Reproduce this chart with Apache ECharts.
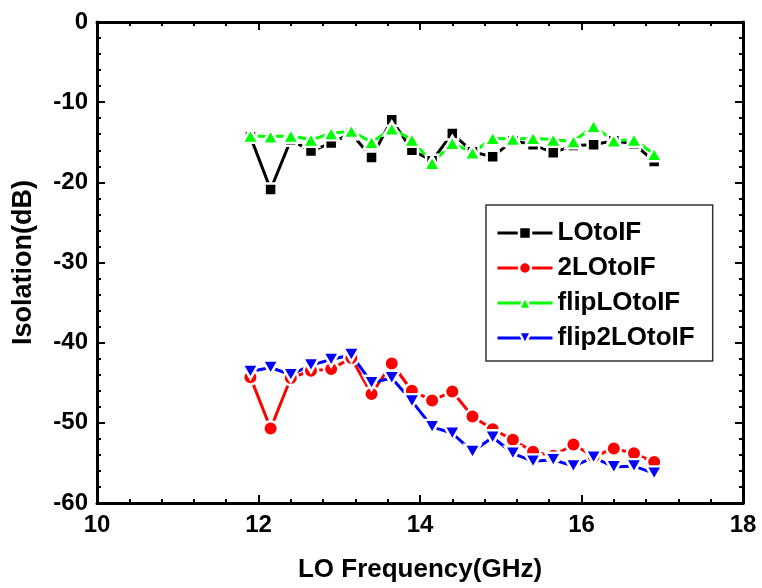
<!DOCTYPE html>
<html>
<head>
<meta charset="utf-8">
<script src="https://cdn.jsdelivr.net/npm/echarts@6/dist/echarts.min.js"></script>
<style>
  html, body { margin: 0; padding: 0; background: #fff; }
  #chart { width: 762px; height: 588px; }
</style>
</head>
<body>
<div id="chart"></div>
<script>
// LO frequency sweep (GHz)
const freq = [11.9, 12.15, 12.4, 12.65, 12.9, 13.15, 13.4, 13.65, 13.9, 14.15, 14.4,
              14.65, 14.9, 15.15, 15.4, 15.65, 15.9, 16.15, 16.4, 16.65, 16.9];

// Isolation (dB) per path
const loToIF      = [-14.3, -20.9, -14.7, -16.1, -15.1, -13.9, -16.9, -12.2, -16.0, -17.3, -13.9,
                     -16.2, -16.8, -14.8, -15.3, -16.3, -15.4, -15.3, -14.8, -15.2, -17.4];
const twoLOtoIF   = [-44.3, -50.7, -44.4, -43.5, -43.3, -41.9, -46.4, -42.6, -46.0, -47.2, -46.1,
                     -49.2, -50.8, -52.1, -53.6, -54.1, -52.7, -54.2, -53.2, -53.8, -54.9];
const flipLOtoIF  = [-14.2, -14.3, -14.2, -14.7, -13.9, -13.6, -15.0, -13.3, -14.7, -17.6, -15.1,
                     -16.3, -14.5, -14.6, -14.5, -14.7, -14.9, -13.0, -14.8, -14.7, -16.5];
const flip2LOtoIF = [-43.6, -43.1, -44.0, -42.8, -42.1, -41.5, -45.0, -44.4, -47.3, -50.5, -51.3,
                     -53.6, -51.8, -53.8, -54.8, -54.6, -55.4, -54.3, -55.5, -55.4, -56.3];

const seriesNames = ['LOtoIF', '2LOtoIF', 'flipLOtoIF', 'flip2LOtoIF'];

// axis ranges and ticks
const xMin = 10, xMax = 18, xStep = 2;
const yMin = -60, yMax = 0, yStep = 10;

const FONT = '"Liberation Sans", Arial, Helvetica, sans-serif';

function pairs(xs, ys) { return xs.map((x, i) => [x, ys[i]]); }

function makeSeries(name, values, color, symbol, size, rotate) {
  return {
    name: name,
    type: 'line',
    data: pairs(freq, values),
    symbol: symbol,
    symbolSize: size,
    symbolRotate: rotate || 0,
    lineStyle: { color: color, width: 3 },
    itemStyle: { color: color, borderColor: '#ffffff', borderWidth: 2.5 },
    emphasis: { disabled: true },
    animation: false
  };
}

function frameAxis(base) {
  return Object.assign({
    type: 'value',
    axisLine: { show: true, onZero: false, lineStyle: { color: '#000', width: 3 } },
    axisTick: { show: true, inside: true, length: 8, lineStyle: { color: '#000', width: 2 } },
    minorTick: { show: true, splitNumber: 5, length: 4, lineStyle: { color: '#000', width: 2 } },
    splitLine: { show: false },
    minorSplitLine: { show: false }
  }, base);
}

const chart = echarts.init(document.getElementById('chart'), null, { renderer: 'canvas' });

chart.setOption({
  backgroundColor: '#ffffff',
  animation: false,
  textStyle: { fontFamily: FONT },
  grid: { left: 97, right: 19, top: 22, bottom: 85, containLabel: false },
  legend: {
    orient: 'vertical',
    left: 486,
    top: 205,
    data: seriesNames,
    itemWidth: 55,
    itemHeight: 15,
    itemGap: 9,
    padding: [15, 18, 10, 10],
    borderColor: '#333',
    borderWidth: 1.5,
    backgroundColor: '#fff',
    selectedMode: false,
    lineStyle: { width: 3 },
    itemStyle: { borderWidth: 2.5, borderColor: '#fff' },
    textStyle: { fontFamily: FONT, fontWeight: 'bold', fontSize: 26, lineHeight: 26, color: '#000' }
  },
  xAxis: [
    frameAxis({
      position: 'bottom',
      min: xMin, max: xMax, interval: xStep,
      name: 'LO Frequency(GHz)',
      nameLocation: 'middle',
      nameGap: 54,
      nameTextStyle: { fontFamily: FONT, fontWeight: 'bold', fontSize: 26, color: '#000' },
      axisLabel: { show: true, margin: 10, fontFamily: FONT, fontWeight: 'bold', fontSize: 24, color: '#000' }
    }),
    frameAxis({
      position: 'top',
      min: xMin, max: xMax, interval: xStep,
      axisLabel: { show: false }
    })
  ],
  yAxis: [
    frameAxis({
      position: 'left',
      min: yMin, max: yMax, interval: yStep,
      name: 'Isolation(dB)',
      nameLocation: 'middle',
      nameGap: 60,
      nameRotate: 90,
      nameTextStyle: { fontFamily: FONT, fontWeight: 'bold', fontSize: 27, color: '#000' },
      axisLabel: { show: true, margin: 9, fontFamily: FONT, fontWeight: 'bold', fontSize: 24, color: '#000' }
    }),
    frameAxis({
      position: 'right',
      min: yMin, max: yMax, interval: yStep,
      axisLabel: { show: false }
    })
  ],
  series: [
    makeSeries(seriesNames[0], loToIF, '#000000', 'rect', 12),
    makeSeries(seriesNames[1], twoLOtoIF, '#ff0000', 'circle', 14.5),
    makeSeries(seriesNames[2], flipLOtoIF, '#00ff00', 'triangle', [16, 14]),
    makeSeries(seriesNames[3], flip2LOtoIF, '#0000ff', 'triangle', [16, 14], 180)
  ]
});
</script>
</body>
</html>
